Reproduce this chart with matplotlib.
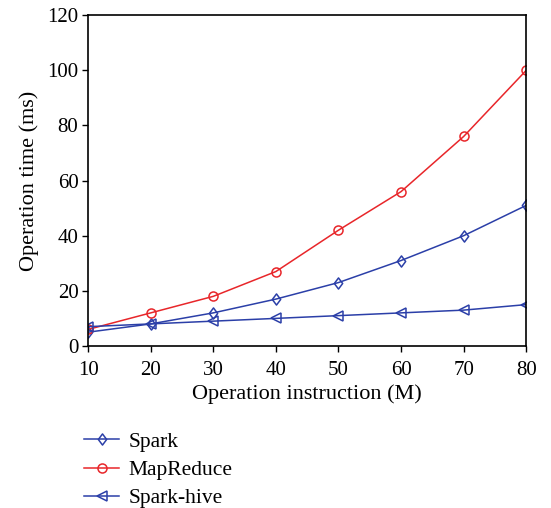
import matplotlib
matplotlib.use("Agg")
import matplotlib.pyplot as plt
from matplotlib.path import Path

plt.rcParams['font.family'] = ['Liberation Serif', 'DejaVu Serif']

x = [10, 20, 30, 40, 50, 60, 70, 80]
spark = [5, 8, 12, 17, 23, 31, 40, 51]
mapreduce = [6, 12, 18, 27, 42, 56, 76, 100]
spark_hive = [7, 8, 9, 10, 11, 12, 13, 15]

diamond = Path([(0, 1), (0.75, 0), (0, -1), (-0.75, 0), (0, 1)],
               [Path.MOVETO, Path.LINETO, Path.LINETO, Path.LINETO, Path.CLOSEPOLY])

fig = plt.figure(figsize=(5.51, 5.08), dpi=100)
ax = fig.add_axes([0.160, 0.319, 0.795, 0.651])

blue = '#2b3fa8'
red = '#e8262a'
l1, = ax.plot(x, spark, color=blue, marker=diamond, mfc='none', mec=blue, ms=8, mew=1.1, lw=1.1, label='Spark')
l2, = ax.plot(x, mapreduce, color=red, marker='o', mfc='none', mec=red, ms=6.5, mew=1.1, lw=1.1, label='MapReduce')
l3, = ax.plot(x, spark_hive, color=blue, marker='<', mfc='none', mec=blue, ms=7, mew=1.1, lw=1.1, label='Spark-hive')

ax.set_xlim(10, 80)
ax.set_ylim(0, 120)
ax.set_xticks(range(10, 81, 10))
ax.set_yticks(range(0, 121, 20))
ax.tick_params(direction='out', length=4, width=1, labelsize=15, pad=3)
ax.tick_params(axis='x', pad=7)
for s in ax.spines.values():
    s.set_linewidth(1.2)
ax.set_xlabel('Operation instruction (M)', fontsize=16, labelpad=3)
ax.set_ylabel('Operation time (ms)', fontsize=16, labelpad=6)

fig.legend(handles=[l1, l2, l3], loc='upper left', bbox_to_anchor=(0.118, 0.188),
           frameon=False, fontsize=15.5, handlelength=1.6, labelspacing=0.38, handletextpad=0.45)

fig.savefig('out.png', dpi=100)
